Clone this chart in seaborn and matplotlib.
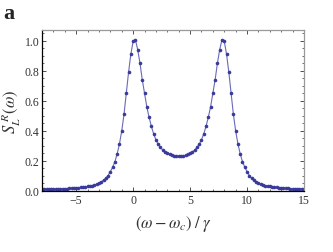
"""Spectrum S_L^R(omega) with two split peaks, Mathematica-like frame."""
import matplotlib
matplotlib.use("Agg")
import matplotlib.pyplot as plt
from matplotlib.ticker import MultipleLocator
import numpy as np
import pandas as pd
import seaborn as sns

# detuning (omega - omega_c)/gamma, sampled every 0.2
detuning = [
    -8.0, -7.8, -7.6, -7.4, -7.2, -7.0, -6.8, -6.6, -6.4, -6.2,
    -6.0, -5.8, -5.6, -5.4, -5.2, -5.0, -4.8, -4.6, -4.4, -4.2,
    -4.0, -3.8, -3.6, -3.4, -3.2, -3.0, -2.8, -2.6, -2.4, -2.2,
    -2.0, -1.8, -1.6, -1.4, -1.2, -1.0, -0.8, -0.6, -0.4, -0.2,
    0.0, 0.2, 0.4, 0.6, 0.8, 1.0, 1.2, 1.4, 1.6, 1.8,
    2.0, 2.2, 2.4, 2.6, 2.8, 3.0, 3.2, 3.4, 3.6, 3.8,
    4.0, 4.2, 4.4, 4.6, 4.8, 5.0, 5.2, 5.4, 5.6, 5.8,
    6.0, 6.2, 6.4, 6.6, 6.8, 7.0, 7.2, 7.4, 7.6, 7.8,
    8.0, 8.2, 8.4, 8.6, 8.8, 9.0, 9.2, 9.4, 9.6, 9.8,
    10.0, 10.2, 10.4, 10.6, 10.8, 11.0, 11.2, 11.4, 11.6, 11.8,
    12.0, 12.2, 12.4, 12.6, 12.8, 13.0, 13.2, 13.4, 13.6, 13.8,
    14.0, 14.2, 14.4, 14.6, 14.8, 15.0,
]
spectrum = [
    0.011, 0.011, 0.011, 0.012, 0.012, 0.013, 0.013, 0.014, 0.014, 0.015,
    0.015, 0.016, 0.017, 0.018, 0.019, 0.020, 0.022, 0.024, 0.026, 0.028,
    0.030, 0.033, 0.036, 0.040, 0.045, 0.050, 0.060, 0.072, 0.085, 0.103,
    0.129, 0.158, 0.195, 0.247, 0.313, 0.400, 0.510, 0.650, 0.790, 0.910,
    0.995, 1.005, 0.940, 0.850, 0.740, 0.650, 0.560, 0.490, 0.430, 0.380,
    0.340, 0.310, 0.290, 0.272, 0.260, 0.250, 0.243, 0.237, 0.233, 0.231,
    0.230, 0.231, 0.233, 0.237, 0.243, 0.250, 0.260, 0.272, 0.290, 0.310,
    0.340, 0.380, 0.430, 0.490, 0.560, 0.650, 0.740, 0.850, 0.940, 1.005,
    0.995, 0.910, 0.790, 0.650, 0.510, 0.400, 0.313, 0.247, 0.195, 0.158,
    0.129, 0.103, 0.085, 0.072, 0.060, 0.050, 0.045, 0.040, 0.036, 0.033,
    0.030, 0.028, 0.026, 0.024, 0.022, 0.020, 0.019, 0.018, 0.017, 0.016,
    0.015, 0.015, 0.014, 0.014, 0.013, 0.013,
]
x_ticks = [-5, 0, 5, 10, 15]
y_ticks = [0.0, 0.2, 0.4, 0.6, 0.8, 1.0]

sns.set_theme(style="ticks")
plt.rcParams.update({
    "font.family": ["Liberation Serif", "DejaVu Serif"],
    "mathtext.fontset": "stix",
    "xtick.direction": "in",
    "ytick.direction": "in",
})

df = pd.DataFrame({"w": detuning, "S": spectrum})

fig = plt.figure(figsize=(3.33, 2.53), dpi=100)
ax = fig.add_axes([42 / 333, 1 - 192 / 253, (304 - 42) / 333, (192 - 31) / 253])

line_col = "#3a3a9c"
sns.lineplot(data=df, x="w", y="S", ax=ax, color="#6a6ab8", lw=0.8,
             marker="o", markersize=2.6, markeredgewidth=0,
             markerfacecolor=line_col)

ax.set_xlim(-8, 15)
ax.set_ylim(0, 1.07)
ax.set_xticks(x_ticks)
ax.set_yticks(y_ticks)
ax.set_xticklabels([str(t).replace("-", "\u2212") for t in x_ticks])
ax.set_yticklabels([f"{t:.1f}" for t in y_ticks])
ax.xaxis.set_minor_locator(MultipleLocator(1))
ax.yaxis.set_minor_locator(MultipleLocator(0.05))
ax.tick_params(which="both", top=True, right=True, labelsize=8.5,
               colors="#333333", length=3, width=0.6, pad=2)
ax.tick_params(which="minor", length=1.6, width=0.5)

for side in ("left", "bottom"):
    ax.spines[side].set_color("black")
    ax.spines[side].set_linewidth(0.9)
for side in ("top", "right"):
    ax.spines[side].set_visible(True)
    ax.spines[side].set_color("#999999")
    ax.spines[side].set_linewidth(0.9)

ax.set_xlabel(r"$(\omega-\omega_c)\;/\;\gamma$", fontsize=12, color="#333333",
              labelpad=5)
ax.set_ylabel(r"$S_L^{\;R}(\omega)$", fontsize=12, color="#333333", labelpad=1)

fig.text(3 / 333, 1 - 19 / 253, "a", fontsize=16, fontweight="bold",
         family=["Liberation Serif", "DejaVu Serif"])

fig.savefig("out.png", dpi=100)
plt.close(fig)
